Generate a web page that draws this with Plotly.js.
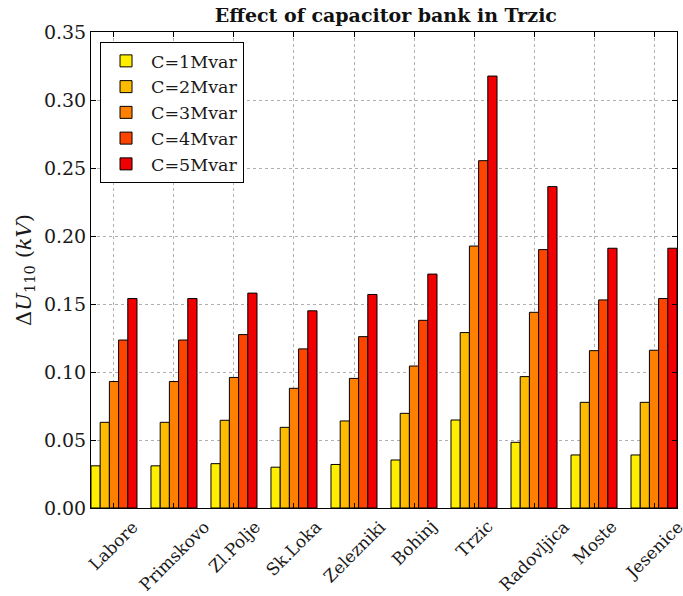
<!DOCTYPE html>
<html>
<head>
<meta charset="utf-8">
<script src="https://cdn.plot.ly/plotly-3.0.1.min.js"></script>
<style>html,body{margin:0;padding:0;background:#fff;}#chart{width:683px;height:596px;}</style>
</head>
<body>
<div id="chart"></div>
<script>
const categories = ["Labore","Primskovo","Zl.Polje","Sk.Loka","Zelezniki","Bohinj","Trzic","Radovljica","Moste","Jesenice"];
const seriesNames = ["C=1Mvar","C=2Mvar","C=3Mvar","C=4Mvar","C=5Mvar"];
const c1 = [0.031, 0.031, 0.0326, 0.030, 0.032, 0.0353, 0.0647, 0.0483, 0.039, 0.039];
const c2 = [0.063, 0.063, 0.0645, 0.0593, 0.064, 0.0696, 0.129, 0.0966, 0.0777, 0.0777];
const c3 = [0.093, 0.093, 0.096, 0.088, 0.0953, 0.1044, 0.1926, 0.1439, 0.1157, 0.116];
const c4 = [0.1235, 0.1235, 0.1275, 0.117, 0.126, 0.138, 0.2554, 0.190, 0.153, 0.154];
const c5 = [0.154, 0.154, 0.158, 0.145, 0.157, 0.172, 0.3176, 0.2363, 0.191, 0.191];
const yTicks = [0.00, 0.05, 0.10, 0.15, 0.20, 0.25, 0.30, 0.35];

const colors = ["#FFEE00", "#FFBB00", "#FF8000", "#FF4400", "#F00000"];
const values = [c1, c2, c3, c4, c5];
const serif = "DejaVu Serif, serif";

const traces = values.map((v, i) => ({
  type: "bar",
  name: seriesNames[i],
  x: categories,
  y: v,
  marker: {color: colors[i], line: {color: "#000", width: 1}},
  hoverinfo: "x+y+name"
}));

const annotations = categories.map(c => ({
  x: c, xref: "x", y: 0, yref: "paper",
  yshift: -6,
  text: c, showarrow: false, textangle: -45,
  xanchor: "center", yanchor: "top",
  font: {family: serif, size: 17, color: "#1a1a1a"}
}));

const layout = {
  width: 683, height: 596,
  margin: {l: 91, r: 6, t: 32, b: 88},
  paper_bgcolor: "#fff", plot_bgcolor: "#fff",
  barmode: "group", bargap: 0.233, bargroupgap: 0,
  title: {text: "<b>Effect of capacitor bank in Trzic</b>", x: 0.565, xanchor: "center", y: 0.985, yanchor: "top",
          font: {family: serif, size: 19, color: "#111"}},
  xaxis: {
    type: "category", range: [-0.383, 9.383],
    showticklabels: false,
    ticks: "inside", ticklen: 5, tickcolor: "#000",
    showline: true, linecolor: "#000", linewidth: 1, mirror: "allticks",
    showgrid: true, gridcolor: "#b0b0b0", griddash: "dot", gridwidth: 1,
    zeroline: false, fixedrange: true
  },
  yaxis: {
    range: [0, 0.35], tickvals: yTicks, ticktext: yTicks.map(t => t.toFixed(2)),
    ticks: "inside", ticklen: 5, tickcolor: "#000",
    showline: true, linecolor: "#000", linewidth: 1, mirror: "allticks",
    showgrid: true, gridcolor: "#b0b0b0", griddash: "dot", gridwidth: 1,
    zeroline: false,
    tickfont: {family: serif, size: 19, color: "#1a1a1a"},
    title: {text: "Δ<i>U</i><sub>110</sub> (<i>kV</i>)", font: {family: serif, size: 21, color: "#1a1a1a"}, standoff: 6},
    automargin: false
  },
  legend: {
    x: 0.0154, y: 0.979, xanchor: "left", yanchor: "top",
    bgcolor: "#fff", bordercolor: "#000", borderwidth: 1,
    font: {family: serif, size: 17.5, color: "#1a1a1a"},
    tracegroupgap: 0, itemwidth: 40
  },
  annotations: annotations,
  showlegend: true
};

Plotly.newPlot("chart", traces, layout, {displayModeBar: false, staticPlot: true});
</script>
</body>
</html>
